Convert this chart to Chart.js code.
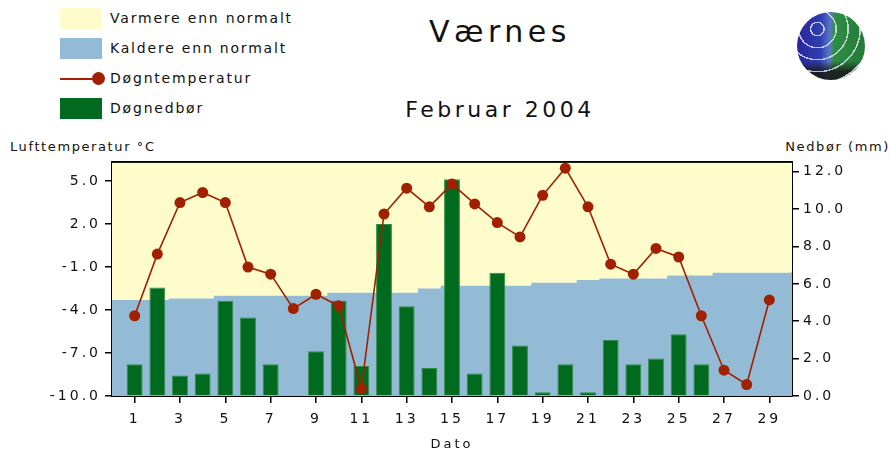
<!DOCTYPE html>
<html>
<head>
<meta charset="utf-8">
<script src="https://cdn.jsdelivr.net/npm/chart.js@4.4.1/dist/chart.umd.min.js"></script>
<style>
  html, body { margin: 0; padding: 0; background: #fff; }
  body { width: 890px; height: 456px; position: relative; overflow: hidden; font-family: "DejaVu Sans", sans-serif; color: #111; }
  #chartBox { position: absolute; left: 0; top: 150px; width: 890px; height: 306px; }
  .txt { position: absolute; white-space: nowrap; }
  #tittel { left: 300px; width: 400px; top: 17px; text-align: center; font-size: 30px; line-height: 30px; letter-spacing: 4.5px; }
  #undertittel { left: 300px; width: 400px; top: 99px; text-align: center; font-size: 22px; line-height: 22px; letter-spacing: 3.5px; }
  #yVenstre { left: 10px; top: 139px; font-size: 13px; line-height: 16px; letter-spacing: 1.6px; }
  #yHoyre { right: 0px; top: 139px; font-size: 13px; line-height: 16px; letter-spacing: 1.6px; }
  #legend { position: absolute; left: 60px; top: 7px; }
  .leg-row { position: relative; height: 30px; }
  .leg-box { position: absolute; left: 0; top: 1px; width: 42px; height: 21px; }
  .leg-line { position: absolute; left: 0; top: 11px; width: 38px; height: 2px; }
  .leg-dot { position: absolute; left: 32px; top: 5px; width: 13px; height: 13px; border-radius: 50%; }
  .leg-text { position: absolute; left: 50px; top: 3px; font-size: 14px; line-height: 17px; letter-spacing: 1.8px; white-space: nowrap; }
  #logo { position: absolute; left: 797px; top: 12px; width: 68px; height: 68px; border-radius: 50%;
    background:
      repeating-radial-gradient(circle at 30% 25%, transparent 0 6px, rgba(235,240,255,.75) 6px 7.5px, transparent 7.5px 12px),
      linear-gradient(to bottom, transparent 72%, rgba(25,25,25,.9) 88%),
      linear-gradient(92deg, #2a229a 0%, #2f3fb0 35%, #5a78c8 48%, #2f8e45 54%, #237a36 100%); }
</style>
</head>
<body>
<div id="legend"></div>
<div class="txt" id="tittel">Værnes</div>
<div class="txt" id="undertittel">Februar 2004</div>
<div id="logo"></div>
<div class="txt" id="yVenstre">Lufttemperatur °C</div>
<div class="txt" id="yHoyre">Nedbør (mm)</div>
<div id="chartBox"><canvas id="chart"></canvas></div>

<script>
// ── Data ─────────────────────────────────────────────
const dager = [1, 2, 3, 4, 5, 6, 7, 8, 9, 10, 11, 12, 13, 14, 15, 16, 17, 18, 19, 20, 21, 22, 23, 24, 25, 26, 27, 28, 29];
const dagTicks = [1, 3, 5, 7, 9, 11, 13, 15, 17, 19, 21, 23, 25, 27, 29];
const tempTicks = [-10, -7, -4, -1, 2, 5];
const nedborTicks = [0, 2, 4, 6, 8, 10, 12];

const dagTemp = [-4.4, -0.1, 3.5, 4.2, 3.5, -1.0, -1.5, -3.9, -2.9, -3.7, -9.5, 2.7, 4.5, 3.2, 4.8,
                 3.4, 2.1, 1.1, 4.0, 5.9, 3.2, -0.8, -1.5, 0.3, -0.3, -4.4, -8.2, -9.2, -3.3];
const dagNedbor = [1.7, 5.8, 1.1, 1.2, 5.1, 4.2, 1.7, 0, 2.4, 5.1, 1.6, 9.2, 4.8, 1.5, 11.6,
                   1.2, 6.6, 2.7, 0.2, 1.7, 0.2, 3.0, 1.7, 2.0, 3.3, 1.7, 0, 0, 0];

// normaltemperatur, dag 0..30 (kanten av plottet)
const normalDager = [0, 1, 2, 3, 4, 5, 6, 7, 8, 9, 10, 11, 12, 13, 14, 15, 16, 17, 18, 19, 20, 21, 22, 23, 24, 25, 26, 27, 28, 29, 30];
const normalTemp = [-3.3, -3.3, -3.3, -3.2, -3.2, -3.0, -3.0, -3.0, -3.0, -3.0, -2.8, -2.8, -2.8, -2.8, -2.5,
                    -2.3, -2.3, -2.3, -2.3, -2.1, -2.1, -1.9, -1.8, -1.8, -1.8, -1.6, -1.6, -1.4, -1.4, -1.4, -1.4];

const FARGE_VARM = '#fffccc';
const FARGE_KALD = '#94bbd5';
const FARGE_TEMP = '#a02000';
const FARGE_NEDBOR = '#006a1f';

const tickFont = { family: 'DejaVu Sans', size: 14 };
const xy = (xs, ys) => xs.map((x, i) => ({ x, y: ys[i] }));

// ── Bokstavavstand på canvas ─────────────────────────
const spacingPlugin = {
    id: 'spacing',
    beforeDraw(chart) { chart.ctx.letterSpacing = '3px'; }
};

const chart = new Chart(document.getElementById('chart'), {
    type: 'bar',
    data: {
        datasets: [
            {
                type: 'line', label: 'Varmere enn normalt', data: xy(normalDager, normalTemp),
                yAxisID: 'yT', stepped: 'middle', borderWidth: 0, pointRadius: 0,
                backgroundColor: FARGE_VARM, fill: 'end', order: 3
            },
            {
                type: 'line', label: 'Kaldere enn normalt', data: xy(normalDager, normalTemp),
                yAxisID: 'yT', stepped: 'middle', borderWidth: 0, pointRadius: 0,
                backgroundColor: FARGE_KALD, fill: 'start', order: 2
            },
            {
                type: 'line', label: 'Døgntemperatur', data: xy(dager, dagTemp),
                yAxisID: 'yT', borderColor: FARGE_TEMP, borderWidth: 1.6,
                pointRadius: 5.5, pointBackgroundColor: FARGE_TEMP, pointBorderWidth: 0,
                fill: false, order: 0
            },
            {
                type: 'bar', label: 'Døgnedbør', data: xy(dager, dagNedbor),
                yAxisID: 'yP', backgroundColor: FARGE_NEDBOR, borderColor: '#2f8a45',
                borderWidth: 1, borderSkipped: 'start',
                barPercentage: 0.7, categoryPercentage: 1, order: 1
            }
        ]
    },
    options: {
        responsive: true, maintainAspectRatio: false, animation: false,
        layout: { padding: { top: 12, left: 0, right: 0, bottom: 0 } },
        plugins: { legend: { display: false }, tooltip: { enabled: false } },
        scales: {
            x: {
                type: 'linear', position: 'bottom', min: 0, max: 30, offset: false,
                afterBuildTicks: s => { s.ticks = dagTicks.map(v => ({ value: v })); },
                afterFit: s => { s.height = 60; },
                grid: { offset: false, drawOnChartArea: false, tickLength: 7, color: '#000', lineWidth: 1.5 },
                border: { color: '#000', width: 2 },
                ticks: { autoSkip: false, maxRotation: 0, padding: 8, color: '#111', font: tickFont, callback: v => String(v) },
                title: { display: true, text: 'Dato', color: '#111', font: { family: 'DejaVu Sans', size: 13 }, padding: { top: 0, bottom: 4 } }
            },
            xTop: {
                type: 'linear', position: 'top', min: 0, max: 30,
                afterFit: s => { s.height = 0; },
                grid: { drawOnChartArea: false, drawTicks: false },
                border: { color: '#000', width: 2 },
                ticks: { display: false }
            },
            yT: {
                type: 'linear', position: 'left', min: -10, max: 6.3,
                afterBuildTicks: s => { s.ticks = tempTicks.map(v => ({ value: v })); },
                afterFit: s => { s.width = 112; },
                grid: { drawOnChartArea: false, tickLength: 7, color: '#000', lineWidth: 1.5 },
                border: { color: '#000', width: 2 },
                ticks: { padding: 4, color: '#111', font: tickFont, callback: v => v.toFixed(1) }
            },
            yP: {
                type: 'linear', position: 'right', min: 0, max: 12.5,
                afterBuildTicks: s => { s.ticks = nedborTicks.map(v => ({ value: v })); },
                afterFit: s => { s.width = 98; },
                grid: { drawOnChartArea: false, tickLength: 7, color: '#000', lineWidth: 1.5 },
                border: { color: '#000', width: 2 },
                ticks: { padding: 4, color: '#111', font: tickFont, callback: v => v.toFixed(1) }
            }
        }
    },
    plugins: [spacingPlugin]
});

// ── Legende ──────────────────────────────────────────
document.getElementById('legend').innerHTML = chart.data.datasets.map(d => {
    const symbol = d.pointRadius > 0
        ? `<div class="leg-line" style="background:${d.borderColor};"></div><div class="leg-dot" style="background:${d.pointBackgroundColor};"></div>`
        : `<div class="leg-box" style="background:${d.backgroundColor};"></div>`;
    return `<div class="leg-row">${symbol}<span class="leg-text">${d.label}</span></div>`;
}).join('');
</script>
</body>
</html>
